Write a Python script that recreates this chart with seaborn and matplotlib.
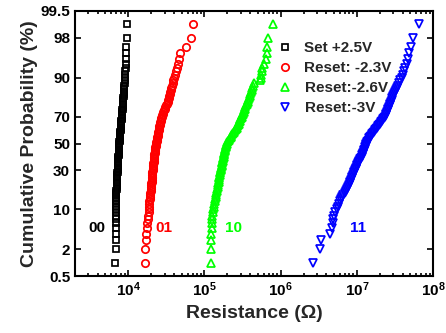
import matplotlib
matplotlib.use('Agg')
import matplotlib.pyplot as plt
import numpy as np
import pandas as pd
import seaborn as sns
from matplotlib.ticker import FixedLocator, NullLocator, LogLocator, FuncFormatter
from statistics import NormalDist

# Resistance values, sorted (one point per 1 % step)
set_kohm = [6.80, 6.84, 6.85, 6.86, 6.86, 6.87, 6.88, 6.88, 6.89, 6.90,
            6.91, 6.92, 6.93, 6.94, 6.96, 6.97, 6.99, 7.00, 7.02, 7.05,
            7.07, 7.09, 7.11, 7.13, 7.15, 7.17, 7.19, 7.21, 7.24, 7.26,
            7.28, 7.30, 7.31, 7.33, 7.35, 7.37, 7.39, 7.41, 7.42, 7.44,
            7.46, 7.47, 7.49, 7.51, 7.53, 7.55, 7.57, 7.59, 7.60, 7.62,
            7.65, 7.68, 7.71, 7.74, 7.77, 7.80, 7.84, 7.87, 7.90, 7.93,
            7.96, 7.99, 8.02, 8.05, 8.09, 8.12, 8.15, 8.19, 8.23, 8.27,
            8.30, 8.33, 8.37, 8.40, 8.44, 8.47, 8.50, 8.54, 8.57, 8.61,
            8.65, 8.69, 8.73, 8.77, 8.82, 8.86, 8.90, 8.95, 9.00, 9.06,
            9.11, 9.17, 9.22, 9.28, 9.34, 9.40, 9.46, 9.53, 9.70]
reset23_kohm = [16.4, 16.6, 17.0, 17.3, 17.5, 17.8, 18.0, 18.2, 18.5, 18.7,
                18.8, 18.9, 19.0, 19.2, 19.3, 19.4, 19.5, 19.6, 19.8, 19.9,
                20.0, 20.1, 20.2, 20.3, 20.4, 20.5, 20.6, 20.7, 20.8, 20.9,
                21.0, 21.1, 21.2, 21.3, 21.4, 21.5, 21.6, 21.7, 21.8, 21.9,
                22.0, 22.1, 22.2, 22.3, 22.4, 22.5, 22.6, 22.8, 22.9, 23.1,
                23.3, 23.5, 23.7, 23.9, 24.1, 24.3, 24.5, 24.7, 24.9, 25.1,
                25.3, 25.5, 25.7, 25.9, 26.1, 26.3, 26.6, 26.9, 27.2, 27.5,
                28.0, 28.5, 29.0, 29.6, 30.2, 30.8, 31.5, 32.2, 32.9, 33.5,
                34.0, 34.5, 35.0, 35.5, 36.0, 36.6, 37.3, 38.1, 38.9, 39.8,
                40.8, 41.8, 43.0, 44.6, 46.7, 48.0, 58.0, 66.5, 70.1]
reset26_kohm = [121, 121, 122, 123, 124, 125, 126, 127, 129, 131,
                133, 135, 137, 138, 140, 142, 143, 145, 147, 149,
                150, 152, 153, 155, 156, 157, 159, 160, 162, 163,
                165, 166, 168, 169, 171, 172, 174, 175, 177, 178,
                180, 181, 183, 184, 186, 188, 190, 192, 194, 196,
                200, 205, 210, 215, 220, 226, 232, 238, 245, 252,
                258, 264, 270, 276, 282, 287, 292, 297, 302, 308,
                314, 320, 326, 332, 338, 345, 352, 360, 368, 376,
                384, 392, 400, 408, 417, 425, 435, 447, 535, 552,
                560, 567, 574, 600, 641, 656, 667, 676, 800]
reset3_mohm = [2.68, 3.28, 3.35, 4.50, 4.68, 4.80, 4.91, 5.05, 5.25, 5.44,
               5.60, 5.80, 6.00, 6.20, 6.40, 6.65, 6.90, 7.15, 7.45, 7.72,
               7.90, 8.10, 8.25, 8.40, 8.60, 8.75, 8.90, 9.10, 9.25, 9.45,
               9.65, 9.85, 10.0, 10.2, 10.4, 10.6, 10.8, 11.0, 11.3, 11.6,
               11.8, 12.0, 12.2, 12.4, 12.6, 12.8, 13.0, 13.1, 13.2, 13.4,
               13.7, 14.0, 14.3, 14.6, 15.0, 15.4, 15.8, 16.3, 16.8, 17.3,
               17.9, 18.5, 19.0, 19.6, 20.2, 20.8, 21.4, 22.0, 22.7, 23.4,
               23.9, 24.4, 24.9, 25.4, 25.9, 26.4, 26.9, 27.5, 28.0, 28.6,
               29.4, 30.2, 31.0, 31.8, 32.7, 33.6, 34.6, 35.6, 37.1, 38.7,
               40.0, 41.5, 43.0, 45.0, 47.3, 49.0, 51.5, 55.1, 65.9]

labels = ['Set +2.5V', 'Reset: -2.3V', 'Reset:-2.6V', 'Reset:-3V']
colors = ['black', '#ff0000', '#00ff00', '#0000ff']
markers = ['s', 'o', '^', 'v']
state_names = ['00', '01', '10', '11']
state_x = [3.9e3, 2.95e4, 2.4e5, 1.05e7]
state_y = 5

prob_ticks = [0.5, 2, 10, 30, 50, 70, 90, 98, 99.5]

series = [np.array(set_kohm) * 1e3, np.array(reset23_kohm) * 1e3,
          np.array(reset26_kohm) * 1e3, np.array(reset3_mohm) * 1e6]

# normal probability scale for the y axis
nd = NormalDist()
_ppf = np.vectorize(nd.inv_cdf, otypes=[float])
_cdf = np.vectorize(nd.cdf, otypes=[float])


def prob_fwd(p):
    p = np.clip(np.asarray(p, dtype=float) / 100.0, 1e-9, 1 - 1e-9)
    return _ppf(p)


def prob_inv(z):
    return _cdf(np.asarray(z, dtype=float)) * 100.0


sns.set_style('ticks')
plt.rcParams['font.family'] = ['Liberation Sans', 'DejaVu Sans']
plt.rcParams['font.weight'] = 'bold'
plt.rcParams['axes.labelweight'] = 'bold'
plt.rcParams['mathtext.fontset'] = 'custom'
plt.rcParams['mathtext.bf'] = 'Liberation Sans:bold'
plt.rcParams['mathtext.rm'] = 'Liberation Sans:bold'

fig = plt.figure(figsize=(4.46, 3.33), dpi=100)
ax = fig.add_axes([75 / 446, 1 - 276 / 333, 358 / 446, 265 / 333])

for vals, lab, col, mk in zip(series, labels, colors, markers):
    n = len(vals)
    df = pd.DataFrame({'R': vals,
                       'P': [100.0 * (i + 1) / (n + 1) for i in range(n)]})
    ms = 4.6 if mk == 's' else 5.3
    sns.lineplot(data=df, x='R', y='P', ax=ax, estimator=None, sort=False,
                 linestyle='', marker=mk, markersize=ms,
                 markerfacecolor='none', markeredgecolor=col,
                 markeredgewidth=1.25, color=col, label=lab)

ax.set_xscale('log')
ax.set_yscale('function', functions=(prob_fwd, prob_inv))
ax.set_xlim(2e3, 1e8)
ax.set_ylim(0.5, 99.5)

ax.yaxis.set_major_locator(FixedLocator(prob_ticks))
ax.yaxis.set_minor_locator(NullLocator())
ax.yaxis.set_major_formatter(FuncFormatter(lambda v, pos: '%g' % v))
ax.xaxis.set_major_locator(LogLocator(base=10, numticks=10))
ax.xaxis.set_minor_locator(LogLocator(base=10, subs=np.arange(2, 10), numticks=20))
ax.xaxis.set_major_formatter(FuncFormatter(lambda v, pos: r'$\mathbf{10^{%d}}$' % round(np.log10(v))))

ax.tick_params(which='both', direction='in', top=True, right=True,
               labelsize=11, width=1.2, colors='black')
ax.tick_params(which='major', length=4.5)
ax.tick_params(which='minor', length=2.5)
for sp in ax.spines.values():
    sp.set_linewidth(1.5)
    sp.set_color('black')

ax.set_xlabel('Resistance (\u03a9)', fontsize=14, labelpad=4)
ax.set_ylabel('Cumulative Probability (%)', fontsize=14, labelpad=2)

for name, sx, col in zip(state_names, state_x, colors):
    ax.text(sx, state_y, name, color=col, fontsize=11, fontweight='bold',
            ha='center', va='center')

ax.legend(loc='upper left', bbox_to_anchor=(277 / 446, 1 - 41 / 333),
          bbox_transform=fig.transFigure, frameon=False, fontsize=11,
          handlelength=1.0, handletextpad=0.8, labelspacing=0.4,
          borderpad=0, borderaxespad=0, numpoints=1)

fig.savefig('out.png', dpi=100)
